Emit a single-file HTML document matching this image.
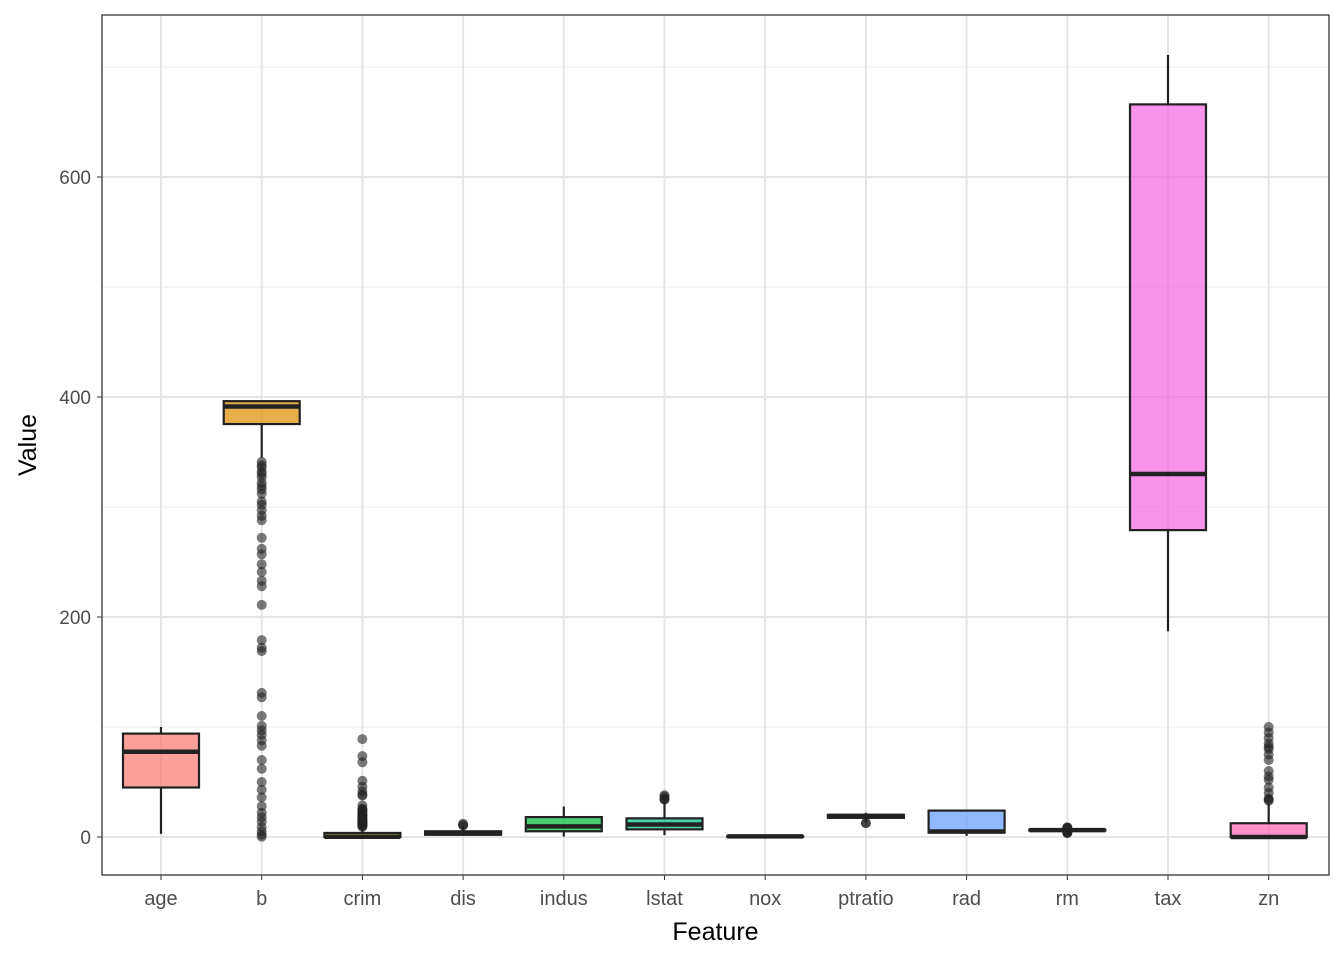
<!DOCTYPE html>
<html><head><meta charset="utf-8"><style>
body{margin:0;background:#fff;font-family:"Liberation Sans",Arial,sans-serif}
</style></head><body>
<svg id="chart" width="1344" height="960" xmlns="http://www.w3.org/2000/svg"></svg>
<script>
const categories=["age","b","crim","dis","indus","lstat","nox","ptratio","rad","rm","tax","zn"];
const colors=["#F8766D","#DE8C00","#B79F00","#7CAE00","#00BA38","#00C08B","#00BFC4","#00B4F0","#619CFF","#C77CFF","#F564E3","#FF64B0"];
const whiskerLow=[2.9,344.9,0.006,1.13,0.46,1.73,0.385,13.0,1,4.88,187,0];
const q1=[45,375.4,0.08,2.1,5.19,6.95,0.449,17.4,4,5.886,279,0];
const median=[77.5,391.4,0.26,3.2,9.69,11.36,0.538,19.05,5,6.208,330,0];
const q3=[94,396.2,3.68,5.19,18.1,16.96,0.624,20.2,24,6.623,666,12.5];
const whiskerHigh=[100,396.9,9.0,9.8,27.74,31.99,0.871,22,24,7.69,711,30];
const outliers=[
 [],
 [341,338,336,332,330,327,322,319,316,312,305,302,297,292,288,272,262,257,248,241,233,228,211,179,172,169,131,127,110,101,97,93,88,83,70,62,50,43,36,28,22,18,14,9,5,2,0.3],
 [88.98,73.5,67.9,51.1,45.7,41.5,38.4,37.7,28.7,25.9,25.0,24.4,23.6,22.0,20.7,20.1,19.6,18.8,18.5,16.8,15.9,15.6,15.2,15.0,14.3,14.0,13.5,12.2,12.0,11.6,11.1,10.8,9.9,9.2],
 [10.6,10.7,12.1],
 [],
 [34.4,34.8,36.9,37.97,34.0],
 [],
 [12.6,12.6],
 [],
 [3.56,3.86,4.1,4.4,4.6,8.0,8.3,8.5,8.78],
 [],
 [33,34,35,40,45,52,55,60,70,75,80,82,85,90,95,100]
];
const yTicks=[0,200,400,600];
const NS="http://www.w3.org/2000/svg";
const svg=document.getElementById("chart");
const L=102,R=1329,T=15,B=875;
const y=v=>837-v*1.1;
const x=i=>161+i*100.7;
function el(tag,attrs,parent){const e=document.createElementNS(NS,tag);for(const k in attrs)e.setAttribute(k,attrs[k]);(parent||svg).appendChild(e);return e;}
[100,300,500,700].forEach(v=>{const g=el("line",{x1:L,x2:R,y1:y(v),y2:y(v),stroke:"#ebebeb","stroke-width":1});

});
yTicks.forEach(v=>{const g=el("line",{x1:L,x2:R,y1:y(v),y2:y(v),stroke:"#e5e5e5","stroke-width":2});


const t=el("text",{x:L-11,y:y(v)+7,"text-anchor":"end","font-size":19,fill:"#4d4d4d"});t.textContent=v;


const tk=el("line",{x1:L-5,x2:L,y1:y(v),y2:y(v),stroke:"#333","stroke-width":1});

});
categories.forEach((c,i)=>{const g=el("line",{x1:x(i),x2:x(i),y1:T,y2:B,stroke:"#e5e5e5","stroke-width":2});


const tk=el("line",{x1:x(i),x2:x(i),y1:B,y2:B+5,stroke:"#333","stroke-width":1});


const t=el("text",{x:x(i),y:B+30,"text-anchor":"middle","font-size":20,fill:"#4d4d4d"});t.textContent=c;

});
const hw=38;
categories.forEach((c,i)=>{const g=el("g",{});


el("line",{x1:x(i),x2:x(i),y1:y(whiskerLow[i]),y2:y(q1[i]),stroke:"#222","stroke-width":2.2},g);
el("line",{x1:x(i),x2:x(i),y1:y(q3[i]),y2:y(whiskerHigh[i]),stroke:"#222","stroke-width":2.2},g);
el("rect",{x:x(i)-hw,y:y(q3[i]),width:2*hw,height:Math.max(y(q1[i])-y(q3[i]),0.5),fill:colors[i],"fill-opacity":0.7,stroke:"#222","stroke-width":2.2},g);
el("line",{x1:x(i)-hw,x2:x(i)+hw,y1:y(median[i]),y2:y(median[i]),stroke:"#222","stroke-width":4.5},g);
outliers[i].forEach(v=>{const p=el("circle",{cx:x(i),cy:y(v),r:5,fill:"#222","fill-opacity":0.6},g);

});});
const fr=el("rect",{x:L,y:T,width:R-L,height:B-T,fill:"none",stroke:"#333","stroke-width":1.3});


const xt=el("text",{x:(L+R)/2,y:940,"text-anchor":"middle","font-size":25,fill:"#000"});xt.textContent="Feature";


const yt=el("text",{x:0,y:0,"text-anchor":"middle","font-size":25,fill:"#000",transform:"translate(36,"+((T+B)/2)+") rotate(-90)"});yt.textContent="Value";


</script>
</body></html>
